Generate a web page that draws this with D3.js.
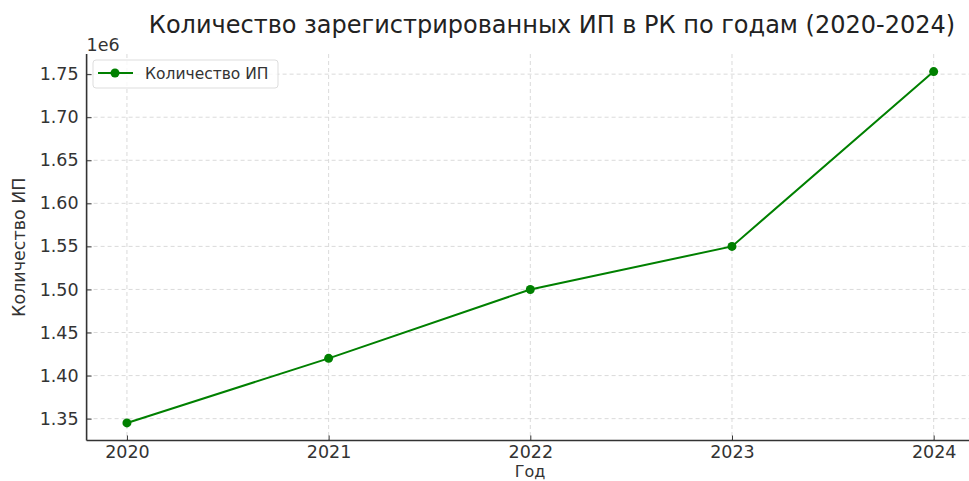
<!DOCTYPE html>
<html>
<head>
<meta charset="utf-8">
<script src="https://cdn.jsdelivr.net/npm/d3@7"></script>
<style>
  body { margin: 0; background: #fff; }
  svg { font-family: "DejaVu Sans", sans-serif; }
</style>
</head>
<body>
<div class="chart"></div>
<script>
// data
const years = [2020, 2021, 2022, 2023, 2024];
const counts = [1345000, 1420000, 1500000, 1550000, 1753000];
const yTicks = [1.35, 1.40, 1.45, 1.50, 1.55, 1.60, 1.65, 1.70, 1.75];
const seriesName = 'Количество ИП';

const width = 969;
const height = 481;
const mLeft = 86.6, mRight = 974, mTop = 54, mBottom = 440.5;
const fs = 17.5;

const svg = d3.select('.chart')
    .append('svg')
    .attr('width', width)
    .attr('height', height);

// scales with matplotlib-like 5% padding
const xPad = (d3.max(years) - d3.min(years)) * 0.05;
const x = d3.scaleLinear()
    .domain([d3.min(years) - xPad, d3.max(years) + xPad])
    .range([mLeft, mRight]);

const yMin = d3.min(counts) / 1e6, yMax = d3.max(counts) / 1e6;
const yPad = (yMax - yMin) * 0.05;
const y = d3.scaleLinear()
    .domain([yMin - yPad, yMax + yPad])
    .range([mBottom, mTop]);

// grid
svg.append('g')
    .selectAll('line')
    .data(yTicks)
    .enter()
    .append('line')
    .attr('x1', mLeft).attr('x2', mRight)
    .attr('y1', d => y(d)).attr('y2', d => y(d))
    .attr('stroke', '#d6d6d6')
    .attr('stroke-dasharray', '4,3')
    .attr('stroke-width', 0.9);

svg.append('g')
    .selectAll('line')
    .data(years)
    .enter()
    .append('line')
    .attr('x1', d => x(d)).attr('x2', d => x(d))
    .attr('y1', mTop).attr('y2', mBottom)
    .attr('stroke', '#d6d6d6')
    .attr('stroke-dasharray', '4,3')
    .attr('stroke-width', 0.9);

// axes, ticks pointing inward
const xAxis = svg.append('g')
    .attr('transform', `translate(0,${mBottom})`)
    .call(d3.axisBottom(x).tickValues(years).tickFormat(d3.format('d')).tickSize(-5).tickPadding(5));
const yAxis = svg.append('g')
    .attr('transform', `translate(${mLeft},0)`)
    .call(d3.axisLeft(y).tickValues(yTicks).tickFormat(d3.format('.2f')).tickSize(-5).tickPadding(8));

[xAxis, yAxis].forEach(a => {
    a.select('.domain').attr('stroke', '#333').attr('stroke-width', 1.6);
    a.selectAll('.tick line').attr('stroke', '#333');
    a.selectAll('.tick text')
        .attr('fill', '#333')
        .attr('font-size', fs)
        .attr('font-family', '"DejaVu Sans", sans-serif');
});
xAxis.select('.domain').attr('d', `M${mLeft},0H${mRight}`);
yAxis.select('.domain').attr('d', `M0,${mBottom}V${mTop}`);

// line and markers
const pts = years.map((yr, i) => ({ yr, v: counts[i] / 1e6 }));
svg.append('path')
    .datum(pts)
    .attr('fill', 'none')
    .attr('stroke', 'green')
    .attr('stroke-width', 2)
    .attr('d', d3.line().x(d => x(d.yr)).y(d => y(d.v)));

svg.selectAll('circle.pt')
    .data(pts)
    .enter()
    .append('circle')
    .attr('class', 'pt')
    .attr('cx', d => x(d.yr))
    .attr('cy', d => y(d.v))
    .attr('r', 4.5)
    .attr('fill', 'green');

// offset label
svg.append('text')
    .attr('x', mLeft)
    .attr('y', 51)
    .attr('font-size', fs)
    .attr('fill', '#333')
    .text('1e6');

// title and axis labels
svg.append('text')
    .attr('x', 552)
    .attr('y', 33)
    .attr('text-anchor', 'middle')
    .attr('font-size', 24)
    .attr('fill', '#222')
    .text('Количество зарегистрированных ИП в РК по годам (2020-2024)');

svg.append('text')
    .attr('x', 530)
    .attr('y', 477.2)
    .attr('text-anchor', 'middle')
    .attr('font-size', 16)
    .attr('fill', '#333')
    .text('Год');

svg.append('text')
    .attr('transform', `translate(25,${(mTop + mBottom) / 2}) rotate(-90)`)
    .attr('text-anchor', 'middle')
    .attr('font-size', fs)
    .attr('fill', '#333')
    .text('Количество ИП');

// legend
const lg = svg.append('g').attr('transform', 'translate(93,60)');
lg.append('rect')
    .attr('width', 185).attr('height', 28)
    .attr('rx', 3)
    .attr('fill', '#fff')
    .attr('fill-opacity', 0.8)
    .attr('stroke', '#ddd');
lg.append('line')
    .attr('x1', 5).attr('x2', 40).attr('y1', 13).attr('y2', 13)
    .attr('stroke', 'green').attr('stroke-width', 2);
lg.append('circle')
    .attr('cx', 22).attr('cy', 13).attr('r', 4.5).attr('fill', 'green');
lg.append('text')
    .attr('x', 52).attr('y', 19)
    .attr('font-size', 15.5)
    .attr('fill', '#333')
    .text(seriesName);
</script>
</body>
</html>
